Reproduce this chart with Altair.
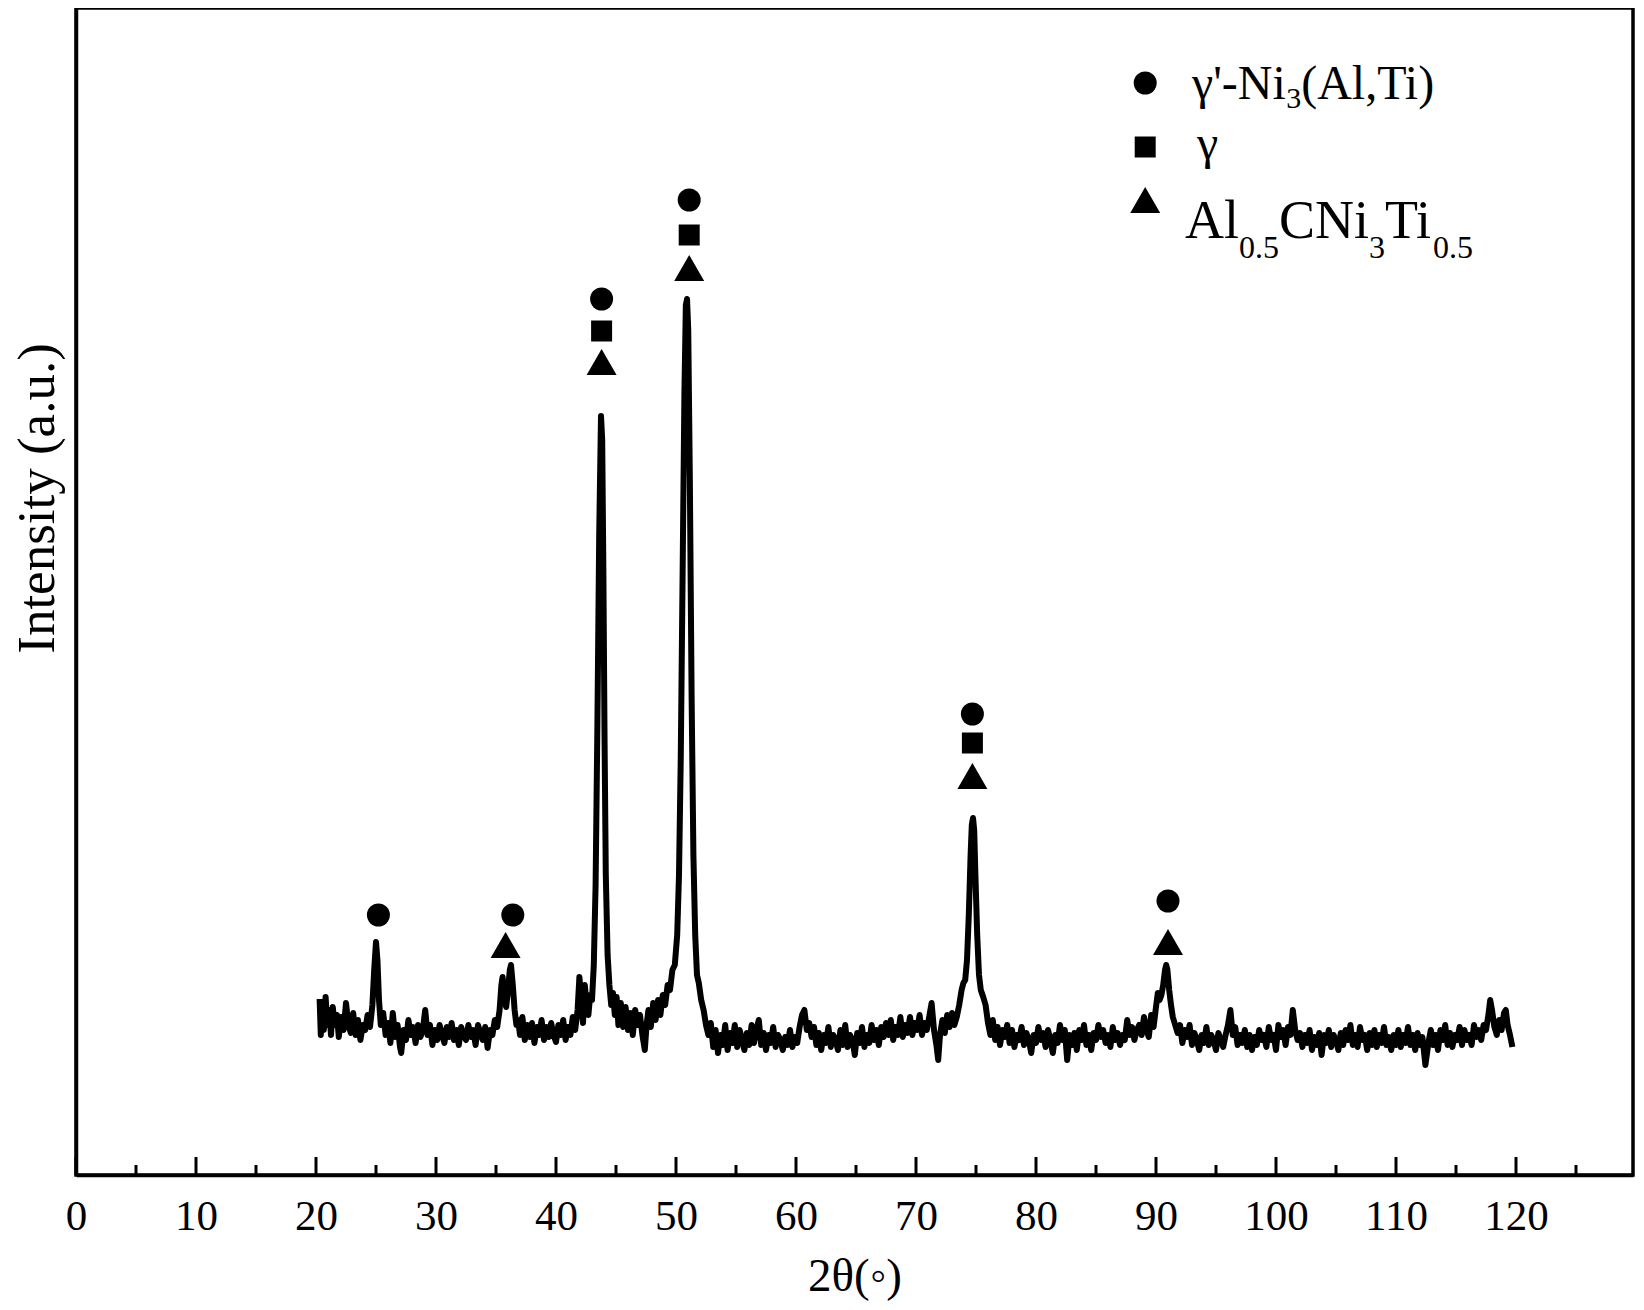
import altair as alt
import pandas as pd

FONT = "Liberation Serif"
W, H = 1557, 1167          # plot area in px
X_MAX = 129.75
Y_MAX = 1167

# ---- XRD pattern (2theta, intensity a.u.) ----
seg_20_36 = [(20.3,176),(20.4,140),(20.5,170),(20.65,145),(20.8,178),(20.95,150),(21.1,165),(21.25,140),
    (21.4,168),(21.55,150),(21.75,160),(21.9,138),(22.1,158),(22.3,145),(22.5,172),(22.7,150),(22.9,142),
    (23.1,162),(23.3,140),(23.5,155),(23.7,135),(23.9,150),(24.1,145),(24.3,160),(24.5,148),(24.7,170),
    (24.85,205),(25.0,233),(25.12,215),(25.25,175),(25.4,150),(25.6,162),(25.8,140),(26.0,152),(26.2,132),
    (26.4,162),(26.6,138),(26.8,150),(27.0,128),(27.1,122),(27.3,145),(27.5,135),(27.7,155),(27.9,140),
    (28.1,148),(28.3,132),(28.5,150),(28.7,138),(28.9,145),(29.1,165),(29.3,140),(29.5,150),(29.7,130),
    (29.9,145),(30.1,135),(30.3,150),(30.5,140),(30.7,132),(30.9,148),(31.1,138),(31.3,152),(31.5,135),
    (31.7,145),(31.9,130),(32.1,148),(32.3,140),(32.5,135),(32.7,150),(32.9,138),(33.1,145),(33.3,130),
    (33.5,150),(33.7,142),(33.9,135),(34.1,148),(34.3,127),(34.5,145),(34.7,140),(34.9,155),(35.1,148),
    (35.3,165),(35.45,190),(35.55,198),(35.7,175),(35.85,168),(36.0,185),(36.15,205),(36.25,210),
    (36.4,190),(36.55,165),(36.7,150),(36.85,155)]
seg_37_45 = [(37.0,140),(37.2,158),(37.4,135),(37.6,150),(37.8,138),(38.0,152),(38.2,132),(38.4,148),
    (38.6,140),(38.8,155),(39.0,135),(39.2,148),(39.4,138),(39.6,152),(39.8,140),(40.0,133),(40.2,150),
    (40.4,140),(40.6,155),(40.8,135),(41.0,148),(41.2,140),(41.4,158),(41.6,145),(41.8,165),(41.95,198),
    (42.1,175),(42.25,152),(42.4,190),(42.55,170),(42.7,160),(42.85,180),(43.0,175),(43.15,210),
    (43.3,290),(43.45,450),(43.6,640),(43.75,759),(43.85,735),(43.95,600),(44.05,430),(44.15,300),
    (44.3,220),(44.45,190),(44.6,170),(44.75,182),(44.9,160)]
seg_45_53 = [(45.05,178),(45.2,150),(45.4,172),(45.6,148),(45.8,168),(46.0,145),(46.2,162),(46.4,140),
    (46.6,165),(46.8,150),(47.0,160),(47.2,140),(47.4,125),(47.55,150),(47.7,165),(47.9,148),(48.1,172),
    (48.3,155),(48.5,175),(48.7,160),(48.9,180),(49.1,170),(49.3,190),(49.5,185),(49.7,205),(49.9,210),
    (50.1,240),(50.25,300),(50.4,420),(50.55,600),(50.7,780),(50.82,870),(50.92,876),(51.02,845),
    (51.15,700),(51.3,480),(51.45,320),(51.6,240),(51.75,200),(51.9,192),(52.1,175),(52.3,165),
    (52.5,150),(52.7,140)]
seg_53_76 = [(52.9,152),(53.1,128),(53.3,145),(53.5,122),(53.7,140),(53.9,130),(54.1,150),(54.3,125),
    (54.5,142),(54.7,132),(54.9,150),(55.1,128),(55.3,145),(55.5,135),(55.7,125),(55.9,142),(56.1,130),
    (56.3,150),(56.5,132),(56.7,145),(56.9,155),(57.1,130),(57.3,142),(57.5,125),(57.7,140),(57.9,132),
    (58.1,148),(58.3,128),(58.5,140),(58.7,135),(58.9,125),(59.1,138),(59.3,130),(59.5,145),(59.7,128),
    (59.9,138),(60.1,132),(60.3,148),(60.5,160),(60.7,165),(60.9,145),(61.1,152),(61.3,138),(61.5,148),
    (61.7,130),(61.9,142),(62.1,125),(62.3,140),(62.5,132),(62.7,148),(62.9,128),(63.1,140),(63.3,135),
    (63.5,125),(63.7,145),(63.9,130),(64.1,150),(64.3,128),(64.5,140),(64.7,135),(64.9,120),(65.1,142),
    (65.3,132),(65.5,148),(65.7,128),(65.9,140),(66.1,132),(66.3,150),(66.5,135),(66.7,145),(66.9,130),
    (67.1,148),(67.3,138),(67.5,152),(67.7,140),(67.9,155),(68.1,135),(68.3,148),(68.5,140),(68.7,158),
    (68.9,138),(69.1,150),(69.3,142),(69.5,158),(69.7,140),(69.9,152),(70.1,145),(70.3,160),(70.5,140),
    (70.7,152),(70.9,145),(71.1,158),(71.3,172),(71.5,145),(71.7,130),(71.85,115),(72.0,140),(72.2,155),
    (72.4,142),(72.6,160),(72.8,148),(73.0,162),(73.2,150),(73.4,158),(73.6,170),(73.8,185),(73.95,192),
    (74.1,195),(74.25,215),(74.4,260),(74.55,320),(74.65,350),(74.75,357),(74.85,345),(74.95,300),
    (75.1,240),(75.25,200),(75.4,185),(75.6,178),(75.8,170),(76.0,152)]
seg_76_92 = [(76.2,140),(76.4,155),(76.6,135),(76.8,148),(77.0,130),(77.2,145),(77.4,138),(77.6,150),
    (77.8,132),(78.0,145),(78.2,128),(78.4,140),(78.6,135),(78.8,148),(79.0,130),(79.2,142),(79.4,135),
    (79.6,122),(79.8,140),(80.0,132),(80.2,148),(80.4,135),(80.6,142),(80.8,128),(81.0,145),(81.2,135),
    (81.4,122),(81.6,140),(81.8,132),(82.0,150),(82.2,135),(82.4,145),(82.6,115),(82.8,140),(83.0,130),
    (83.2,142),(83.4,125),(83.6,145),(83.8,135),(84.0,150),(84.2,130),(84.4,140),(84.6,125),(84.8,142),
    (85.0,135),(85.2,150),(85.4,138),(85.6,145),(85.8,132),(86.0,140),(86.2,128),(86.4,148),(86.6,135),
    (86.8,142),(87.0,130),(87.2,140),(87.4,135),(87.6,155),(87.8,140),(88.0,148),(88.2,135),(88.4,145),
    (88.6,150),(88.8,140),(89.0,158),(89.2,145),(89.4,138),(89.6,160),(89.8,148),(90.0,168),(90.15,182),
    (90.3,175),(90.45,180),(90.6,190),(90.75,205),(90.85,210),(90.95,205),(91.1,185),(91.25,170),
    (91.4,158),(91.6,150),(91.8,142)]
seg_92_120 = [(92.0,150),(92.2,132),(92.4,145),(92.6,138),(92.8,150),(93.0,130),(93.2,142),(93.4,135),
    (93.6,125),(93.8,140),(94.0,132),(94.2,148),(94.4,130),(94.6,140),(94.8,135),(95.0,125),(95.2,142),
    (95.4,135),(95.6,128),(95.8,140),(96.0,150),(96.2,165),(96.4,140),(96.6,148),(96.8,130),(97.0,140),
    (97.2,132),(97.4,145),(97.6,128),(97.8,140),(98.0,125),(98.2,138),(98.4,130),(98.6,145),(98.8,135),
    (99.0,140),(99.2,128),(99.4,148),(99.6,135),(99.8,140),(100.0,125),(100.2,150),(100.4,138),
    (100.6,145),(100.8,130),(101.0,148),(101.2,140),(101.4,165),(101.6,145),(101.8,135),(102.0,142),
    (102.2,128),(102.4,140),(102.6,132),(102.8,145),(103.0,125),(103.2,138),(103.4,130),(103.6,142),
    (103.8,120),(104.0,140),(104.2,132),(104.4,145),(104.6,128),(104.8,140),(105.0,135),(105.2,125),
    (105.4,142),(105.6,130),(105.8,145),(106.0,135),(106.2,150),(106.4,130),(106.6,140),(106.8,128),
    (107.0,148),(107.2,135),(107.4,140),(107.6,125),(107.8,142),(108.0,130),(108.2,145),(108.4,128),
    (108.6,140),(108.8,132),(109.0,148),(109.2,130),(109.4,138),(109.6,125),(109.8,140),(110.0,130),
    (110.2,145),(110.4,128),(110.6,140),(110.8,132),(111.0,148),(111.2,130),(111.4,140),(111.6,125),
    (111.8,142),(112.0,130),(112.2,138),(112.45,110),(112.7,132),(112.9,145),(113.1,130),(113.3,140),
    (113.5,125),(113.7,145),(113.9,135),(114.1,150),(114.3,130),(114.5,142),(114.7,128),(114.9,140),
    (115.1,135),(115.3,148),(115.5,130),(115.7,145),(115.9,135),(116.1,140),(116.3,130),(116.5,150),
    (116.7,138),(116.9,145),(117.1,135),(117.3,150),(117.5,145),(117.7,160),(117.85,175),(118.0,165),
    (118.2,148),(118.4,140),(118.6,155),(118.8,145),(119.0,162),(119.15,165),(119.3,150),(119.5,140),
    (119.7,128)]

# ---- phase markers above peaks ----
circle_x = [25.2, 36.4, 43.8, 51.1, 74.7, 91.0]
circle_y = [260, 260, 876, 975, 461, 274]
square_x = [43.8, 51.1, 74.7]
square_y = [844, 940, 432]
triangle_x = [35.8, 43.8, 51.1, 74.7, 91.0]
triangle_y = [230, 813, 907, 399, 233]

# legend symbols (data coords)
legend_sym_x = 89.1
legend_sym_y = {"circle": 1092, "square": 1028, "triangle-up": 975}

# axis ticks
major_ticks = [0, 10, 20, 30, 40, 50, 60, 70, 80, 90, 100, 110, 120]
minor_ticks = [5, 15, 25, 35, 45, 55, 65, 75, 85, 95, 105, 115, 125]

X_TITLE = "2θ(◦)"
Y_TITLE = "Intensity (a.u.)"

pattern = seg_20_36 + seg_37_45 + seg_45_53 + seg_53_76 + seg_76_92 + seg_92_120
df_line = pd.DataFrame(pattern, columns=["x", "y"])

xs = alt.Scale(domain=[0, X_MAX], nice=False, zero=False)
ys = alt.Scale(domain=[0, Y_MAX], nice=False, zero=False)

x_axis = alt.Axis(values=major_ticks, ticks=False, tickSize=0, labelFlush=False,
                  labelFontSize=43, labelBaseline="alphabetic", labelPadding=54,
                  labelOverlap=False, grid=False, titleFontSize=47, titleY=115,
                  titleBaseline="alphabetic")
y_axis = alt.Axis(labels=False, ticks=False, tickSize=0, grid=False, titleFontSize=53,
                  titleX=-39, titleY=490, titleAngle=270, titleBaseline="middle",
                  titleAlign="center")

def X(field="x"):
    return alt.X(f"{field}:Q", scale=xs, axis=x_axis, title=X_TITLE)

def Y(field="y"):
    return alt.Y(f"{field}:Q", scale=ys, axis=y_axis, title=Y_TITLE)

line = alt.Chart(df_line).mark_line(color="black", strokeWidth=6, strokeJoin="round").encode(
    x=X(), y=Y())

def pts(xv, yv, shape, size):
    d = pd.DataFrame({"x": xv, "y": yv})
    return alt.Chart(d).mark_point(shape=shape, size=size, filled=True, color="black",
                                   opacity=1, strokeWidth=0).encode(x=X(), y=Y())

circles = pts(circle_x + [legend_sym_x], circle_y + [legend_sym_y["circle"]], "circle", 529)
squares = pts(square_x + [legend_sym_x], square_y + [legend_sym_y["square"]], "square", 441)
triangles = pts(triangle_x + [legend_sym_x], triangle_y + [legend_sym_y["triangle-up"]], "triangle-up", 900)

def tick_rules(vals, length):
    d = pd.DataFrame({"x": vals})
    return alt.Chart(d).mark_rule(color="black", strokeWidth=3).encode(
        x=X(), y=alt.value(H), y2=alt.value(H - length))

ticks_major = tick_rules(major_ticks, 18)
ticks_minor = tick_rules(minor_ticks, 10)

# ---- legend text with subscripts (layout in px, converted to data units) ----
CW = {"γ": 0.45, "'": 0.18, "-": 0.333, "N": 0.722, "i": 0.278, "3": 0.5, "(": 0.333,
      "A": 0.722, "l": 0.278, ",": 0.25, "T": 0.611, ")": 0.333, "0": 0.5, ".": 0.25,
      "5": 0.5, "C": 0.667}
legend_lines = [
    (1116, 91, [("γ'-Ni", 48, 0), ("3", 30, 9), ("(Al,Ti)", 48, 0)]),
    (1121, 151, [("γ", 48, 0)]),
    (1109, 230, [("Al", 54, 0), ("0.5", 32, 20), ("CNi", 54, 0), ("3", 32, 20),
                 ("Ti", 54, 0), ("0.5", 32, 20)]),
]
rows = []
for x0, base, segs in legend_lines:
    cx = x0
    for txt, fs, dy in segs:
        rows.append({"x": cx * X_MAX / W, "y": Y_MAX - (base + dy), "t": txt, "fs": fs})
        cx += sum(CW.get(c, 0.5) for c in txt) * fs
df_txt = pd.DataFrame(rows)
legend_text = alt.Chart(df_txt).mark_text(align="left", baseline="alphabetic", font=FONT,
                                          color="black").encode(
    x=X(), y=Y(), text="t:N", size=alt.Size("fs:Q", scale=None, legend=None))

chart = alt.layer(line, ticks_major, ticks_minor, circles, squares, triangles, legend_text).properties(
    width=W, height=H, autosize=alt.AutoSizeParams(type="none"),
    padding={"left": 68, "top": 0, "right": 2, "bottom": 126},
    background="white",
).configure_view(stroke="black", strokeWidth=3.5).configure_axis(
    domainColor="black", domainWidth=3.5, labelColor="black", titleColor="black",
    labelFont=FONT, titleFont=FONT, titleFontWeight="normal",
).configure_text(font=FONT)

chart.save("out.html", embed_options={"renderer": "svg", "actions": False})
